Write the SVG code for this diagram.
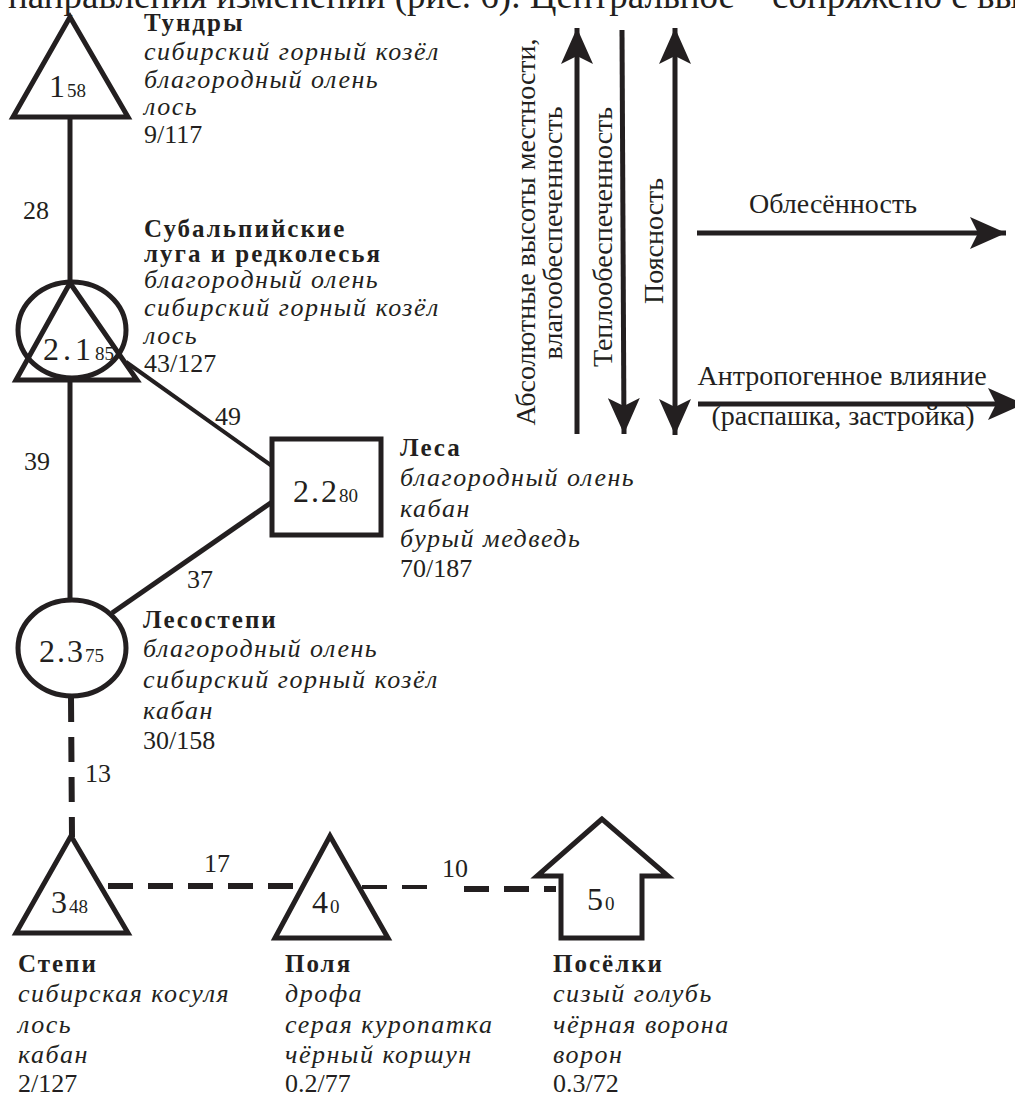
<svg xmlns="http://www.w3.org/2000/svg" width="1015" height="1095" viewBox="0 0 1015 1095">
<defs>
<style>
text{font-family:"Liberation Serif","Times New Roman",serif;fill:#231f20}
.hd{font-weight:bold;font-size:25px;letter-spacing:2px}
.sp{font-style:italic;font-size:26px;letter-spacing:1.5px}
.nm{font-size:26px}
.el{font-size:26px}
.ax{font-size:28px}
.big{font-size:32px;letter-spacing:2px}
.sub{font-size:19px;letter-spacing:0}
.shape{fill:#fff;stroke:#231f20;stroke-width:5;stroke-linejoin:miter}
.ln{stroke:#231f20;stroke-width:5;fill:none}
.dash{stroke:#231f20;stroke-width:6;fill:none;stroke-dasharray:25 15}
.arr{stroke:#231f20;stroke-width:5;fill:none}
</style>
<marker id="ahb" viewBox="0 0 36 32" refX="36" refY="16" markerWidth="36" markerHeight="32" markerUnits="userSpaceOnUse" orient="auto-start-reverse">
<path d="M0,0 L36,16 L0,32 L8,16 Z" fill="#231f20"/>
</marker>
</defs>

<text x="8" y="8" style="font-size:37px">направления изменений (рис. 6). Центральное – сопряжено с вы</text>

<g id="connectors">
<line class="ln" x1="70" y1="117" x2="70" y2="284"/>
<line class="ln" x1="70" y1="380" x2="70" y2="600"/>
<line class="ln" style="stroke-width:4" x1="126" y1="362" x2="272" y2="466"/>
<line class="ln" x1="272" y1="502" x2="112" y2="613"/>
<line class="dash" x1="71" y1="697" x2="72" y2="837"/>
<line class="dash" x1="108" y1="886" x2="300" y2="886"/>
<line class="dash" style="stroke-width:4" x1="362" y1="887" x2="440" y2="887"/>
<line class="dash" x1="452" y1="889" x2="556" y2="889" style="stroke-dasharray:25 15;stroke-dashoffset:-12"/>
<text class="el" x="23" y="219">28</text>
<text class="el" x="215" y="425">49</text>
<text class="el" x="24" y="470">39</text>
<text class="el" x="187" y="588">37</text>
<text class="el" x="85" y="782">13</text>
<text class="el" x="204" y="872">17</text>
<text class="el" x="442" y="877">10</text>
</g>

<g id="node-1">
<polygon class="shape" points="70,17 13,117 128,117"/>
<text class="big" x="49" y="97">1<tspan class="sub">58</tspan></text>
<text class="hd" x="144" y="31">Тундры</text>
<text class="sp" x="144" y="60">сибирский горный козёл</text>
<text class="sp" x="144" y="88">благородный олень</text>
<text class="sp" x="144" y="115">лось</text>
<text class="nm" x="144" y="143">9/117</text>
</g>

<g id="node-2-1">
<ellipse class="shape" cx="72" cy="330" rx="54" ry="48"/>
<polygon class="shape" style="fill:none" points="70,283 16,380 137,380"/>
<text class="big" x="43" y="360" style="letter-spacing:4px">2.1<tspan class="sub">85</tspan></text>
<text class="hd" x="144" y="237">Субальпийские</text>
<text class="hd" x="144" y="262">луга и редколесья</text>
<text class="sp" x="144" y="288">благородный олень</text>
<text class="sp" x="144" y="316">сибирский горный козёл</text>
<text class="sp" x="144" y="344">лось</text>
<text class="nm" x="144" y="372">43/127</text>
</g>

<g id="node-2-2">
<rect class="shape" x="272" y="439" width="109" height="96"/>
<text class="big" x="293" y="502">2.2<tspan class="sub">80</tspan></text>
<text class="hd" x="400" y="456">Леса</text>
<text class="sp" x="400" y="486">благородный олень</text>
<text class="sp" x="400" y="517">кабан</text>
<text class="sp" x="400" y="547">бурый медведь</text>
<text class="nm" x="400" y="577">70/187</text>
</g>

<g id="node-2-3">
<ellipse class="shape" cx="72" cy="648" rx="54" ry="48"/>
<text class="big" x="39" y="662">2.3<tspan class="sub">75</tspan></text>
<text class="hd" x="143" y="628">Лесостепи</text>
<text class="sp" x="143" y="657">благородный олень</text>
<text class="sp" x="143" y="688">сибирский горный козёл</text>
<text class="sp" x="143" y="719">кабан</text>
<text class="nm" x="143" y="749">30/158</text>
</g>

<g id="node-3">
<polygon class="shape" points="71,836 16,933 128,933"/>
<text class="big" x="51" y="913">3<tspan class="sub">48</tspan></text>
<text class="hd" x="18" y="972">Степи</text>
<text class="sp" x="18" y="1002">сибирская косуля</text>
<text class="sp" x="18" y="1033">лось</text>
<text class="sp" x="18" y="1063">кабан</text>
<text class="nm" x="18" y="1092">2/127</text>
</g>

<g id="node-4">
<polygon class="shape" points="330,836 275,938 388,938"/>
<text class="big" x="312" y="913">4<tspan class="sub">0</tspan></text>
<text class="hd" x="285" y="972">Поля</text>
<text class="sp" x="285" y="1002">дрофа</text>
<text class="sp" x="285" y="1033">серая куропатка</text>
<text class="sp" x="285" y="1063">чёрный коршун</text>
<text class="nm" x="285" y="1092">0.2/77</text>
</g>

<g id="node-5">
<polygon class="shape" points="602,819 537,876 561,876 561,938 642,938 642,876 668,876"/>
<text class="big" x="587" y="910">5<tspan class="sub">0</tspan></text>
<text class="hd" x="553" y="972">Посёлки</text>
<text class="sp" x="553" y="1002">сизый голубь</text>
<text class="sp" x="553" y="1033">чёрная ворона</text>
<text class="sp" x="553" y="1063">ворон</text>
<text class="nm" x="553" y="1092">0.3/72</text>
</g>

<g id="axes">
<line class="arr" x1="577" y1="434" x2="577" y2="28" marker-end="url(#ahb)"/>
<line class="arr" x1="622" y1="30" x2="624" y2="434" marker-end="url(#ahb)"/>
<line class="arr" x1="675" y1="28" x2="675" y2="435" marker-start="url(#ahb)" marker-end="url(#ahb)"/>
<line class="arr" x1="697" y1="233" x2="1006" y2="233" marker-end="url(#ahb)"/>
<line class="arr" x1="698" y1="404" x2="1024" y2="404" marker-end="url(#ahb)"/>
<text class="ax" text-anchor="middle" transform="translate(535,232) rotate(-90)">Абсолютные высоты местности,</text>
<text class="ax" text-anchor="middle" transform="translate(562,233) rotate(-90)">влагообеспеченность</text>
<text class="ax" text-anchor="middle" transform="translate(612,237) rotate(-90)">Теплообеспеченность</text>
<text class="ax" text-anchor="middle" transform="translate(663,241) rotate(-90)">Поясность</text>
<text class="ax" x="833" y="213" text-anchor="middle">Облесённость</text>
<text class="ax" x="842" y="385" text-anchor="middle">Антропогенное влияние</text>
<text class="ax" x="843" y="425" text-anchor="middle">(распашка, застройка)</text>
</g>
</svg>
